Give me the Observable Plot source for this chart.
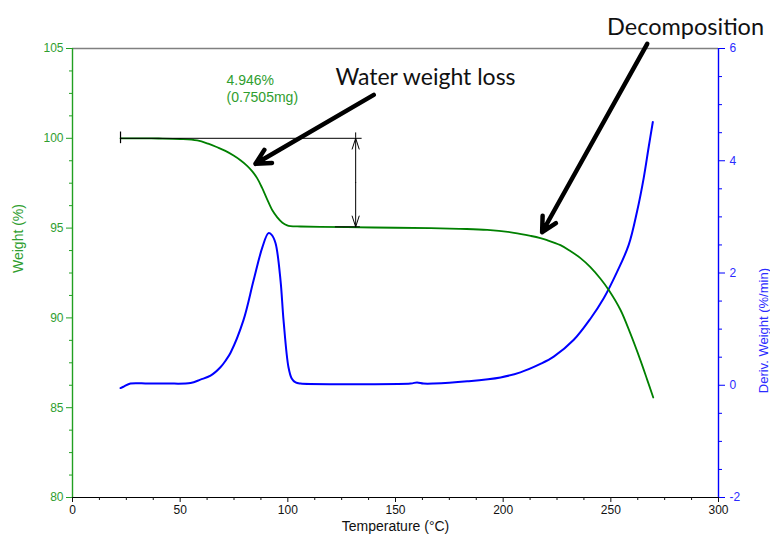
<!DOCTYPE html>
<html>
<head>
<meta charset="utf-8">
<script src="https://cdn.jsdelivr.net/npm/d3@7"></script>
<script src="https://cdn.jsdelivr.net/npm/@observablehq/plot@0.6"></script>
<style>
  html, body { margin: 0; padding: 0; background: #fff; }
</style>
</head>
<body>
<div id="chart"></div>
<script>
// ---- Data ----
const weightTemp = [22.3, 30, 40, 50, 57.9, 63, 67.2, 71, 74.8, 78, 81.1, 83.5, 85.8, 88, 90.4, 92.8, 95.1, 97.5, 99.7, 101.2, 105.9, 115, 127.6, 150, 166.3, 180, 192.6, 205, 213, 217.3, 220.4, 226.6, 231, 235.9, 240.5, 245.2, 249.1, 254.5, 259.1, 263.8, 266.9, 269.7];
const weightValues = [100.0, 100.0, 99.99, 99.96, 99.88, 99.7, 99.5, 99.3, 99.04, 98.78, 98.47, 98.16, 97.77, 97.25, 96.6, 95.99, 95.6, 95.3, 95.15, 95.11, 95.09, 95.07, 95.05, 95.02, 95.0, 94.96, 94.9, 94.74, 94.56, 94.44, 94.33, 94.05, 93.74, 93.33, 92.83, 92.18, 91.54, 90.44, 89.12, 87.62, 86.55, 85.57];

const derivTemp = [22.3, 24, 26.9, 35, 44, 54.8, 59.4, 64.1, 68.7, 71.1, 73.4, 79.4, 84.1, 88.2, 91.0, 92.5, 94.3, 96.6, 98.0, 100.3, 101.8, 103.6, 105.9, 130, 157, 160, 163, 167.7, 183.3, 198.8, 208, 217.3, 223.5, 232.8, 240.6, 246.7, 252.9, 258.3, 262.2, 265.3, 267.6, 269.5];
const derivValues = [-0.05, -0.02, 0.03, 0.03, 0.03, 0.04, 0.1, 0.17, 0.32, 0.44, 0.58, 1.16, 1.87, 2.46, 2.71, 2.68, 2.53, 1.87, 1.16, 0.32, 0.12, 0.05, 0.03, 0.02, 0.03, 0.05, 0.03, 0.03, 0.07, 0.14, 0.23, 0.38, 0.51, 0.81, 1.19, 1.55, 2.02, 2.50, 3.10, 3.70, 4.25, 4.69];

const weightTicks = [80, 85, 90, 95, 100, 105];
const derivTicks = [-2, 0, 2, 4, 6];
const tempTicks = [0, 50, 100, 150, 200, 250, 300];

// annotations (data coordinates: temperature, weight %)
const stepLabels = ["4.946%", "(0.7505mg)"];
const stepLabelT = [71.5, 71.5];
const stepLabelW = [103.22, 102.25];
const waterLabel = "Water weight loss";
const waterLabelT = 122.1, waterLabelW = 103.4;
const decompLabel = "Decomposition";
const decompLabelT = 284.7, decompLabelW = 106.19;
const arrowT1 = [139.9, 266.9];
const arrowW1 = [102.42, 105.26];
const arrowT2 = [85.0, 218.1];
const arrowW2 = [98.58, 94.77];
const stepStartT = 22.3, stepEndT = 134.5, stepMarkT = 131.5;
const stepTopW = 100.0, stepBottomW = 95.07;

// ---- Build tables ----
const wMin = 80, wMax = 105, dMin = -2, dMax = 6;
const toW = d => wMin + (d - dMin) * (wMax - wMin) / (dMax - dMin);
const fromW = w => dMin + (w - wMin) * (dMax - dMin) / (wMax - wMin);

const weightData = weightTemp.map((t, i) => ({t, w: weightValues[i]}));
const derivData = derivTemp.map((t, i) => ({t, d: derivValues[i]}));
const stepText = stepLabels.map((s, i) => ({s, t: stepLabelT[i], w: stepLabelW[i]}));
const arrows = arrowT1.map((t, i) => ({x1: t, y1: arrowW1[i], x2: arrowT2[i], y2: arrowW2[i]}));
const stepMid = (stepTopW + stepBottomW) / 2;

const range = (a, b, s) => d3.range(a, b + s / 2, s);
const minorX = range(0, 300, 12.5).filter(v => v % 50 !== 0);
const minorY = range(80, 105, 1.25).filter(v => v % 5 !== 0);
const minorD = range(-2, 6, 0.5).filter(v => v % 2 !== 0).map(toW);

const GREEN_TXT = "#2f9e2f";
const calloutFont = "Lato, 'Open Sans', sans-serif";

const chart = Plot.plot({
  width: 770,
  height: 540,
  marginLeft: 72,
  marginRight: 52,
  marginTop: 48,
  marginBottom: 43,
  x: {domain: [0, 300]},
  y: {domain: [wMin, wMax]},
  style: {fontFamily: "'Liberation Sans', Arial, sans-serif", fontSize: "12px", background: "white", overflow: "visible"},
  marks: [
    // frame lines
    Plot.ruleY([105], {stroke: "#808080", strokeWidth: 1.6}),
    Plot.ruleY([80], {stroke: "#000", strokeWidth: 1.2}),
    Plot.ruleX([0], {stroke: "#22a022", strokeWidth: 1.4}),
    Plot.ruleX([300], {stroke: "#0000ff", strokeWidth: 1.4}),

    // bottom axis
    Plot.axisX(tempTicks, {anchor: "bottom", tickSize: 5, tickPadding: 3, color: "#111", label: null, tickFormat: d => String(d)}),
    Plot.axisX(minorX, {anchor: "bottom", tickSize: 3, color: "#111", label: null, tickFormat: () => ""}),
    // left axis
    Plot.axisY(weightTicks, {anchor: "left", tickSize: 6, tickPadding: 3, stroke: "#22a022", fill: GREEN_TXT, label: null, tickFormat: d => String(d)}),
    Plot.axisY(minorY, {anchor: "left", tickSize: 3, stroke: "#22a022", label: null, tickFormat: () => ""}),
    // right axis (derivative)
    Plot.axisY(derivTicks.map(toW), {anchor: "right", tickSize: 6, tickPadding: 5, stroke: "#0000ff", fill: "#2b2bff", label: null, tickFormat: w => String(Math.round(fromW(w)))}),
    Plot.axisY(minorD, {anchor: "right", tickSize: 3, stroke: "#0000ff", label: null, tickFormat: () => ""}),

    // axis titles
    Plot.text(["Temperature (°C)"], {frameAnchor: "bottom", dy: 33, fontSize: 14, fill: "#111"}),
    Plot.text(["Weight (%)"], {frameAnchor: "left", dx: -54, rotate: -90, fontSize: 14, fill: GREEN_TXT}),
    Plot.text(["Deriv. Weight (%/min)"], {frameAnchor: "right", dx: 45, dy: -5, rotate: -90, fontSize: 13, fill: "#2b2bff"}),

    // curves
    Plot.line(derivData, {x: "t", y: d => toW(d.d), stroke: "#0000ff", strokeWidth: 2, curve: "catmull-rom"}),
    Plot.line(weightData, {x: "t", y: "w", stroke: "#008000", strokeWidth: 1.8, curve: "catmull-rom"}),

    // step measurement marker
    Plot.ruleY([stepTopW], {x1: stepStartT, x2: stepEndT, stroke: "#000", strokeWidth: 1}),
    Plot.ruleY([stepBottomW], {x1: stepMarkT - 9.4, x2: stepMarkT + 2.2, stroke: "#000", strokeWidth: 1}),
    Plot.ruleX([stepStartT], {y1: stepTopW - 0.3, y2: stepTopW + 0.35, stroke: "#000", strokeWidth: 1.2}),
    Plot.ruleX([stepMarkT], {y1: stepTopW, y2: stepTopW + 0.3, stroke: "#000", strokeWidth: 1}),
    Plot.arrow([{y1: stepMid, y2: stepTopW}, {y1: stepMid, y2: stepBottomW}], {x1: stepMarkT, x2: stepMarkT, y1: "y1", y2: "y2", stroke: "#000", strokeWidth: 1, headLength: 17, headAngle: 36}),
    Plot.text(stepText, {x: "t", y: "w", text: "s", textAnchor: "start", fontSize: 14, fill: GREEN_TXT}),

    // callouts
    Plot.arrow(arrows, {x1: "x1", y1: "y1", x2: "x2", y2: "y2", stroke: "#000", strokeWidth: 4.5, headLength: 5.5, headAngle: 55, strokeLinejoin: "miter"}),
    Plot.text([waterLabel], {x: waterLabelT, y: waterLabelW, textAnchor: "start", fontSize: 23, fontFamily: calloutFont, fill: "#111"}),
    Plot.text([decompLabel], {x: decompLabelT, y: decompLabelW, textAnchor: "middle", fontSize: 23.5, fontFamily: calloutFont, fill: "#111"})
  ]
});

document.getElementById("chart").appendChild(chart);
</script>
</body>
</html>
